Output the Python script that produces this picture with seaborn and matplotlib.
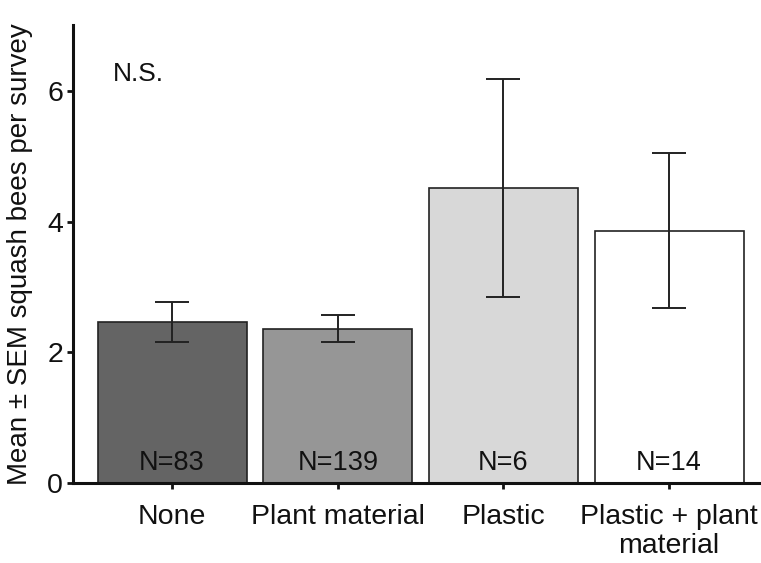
import numpy as np
import pandas as pd
import matplotlib
matplotlib.use("Agg")
import matplotlib.pyplot as plt
import seaborn as sns

categories = ["None", "Plant material", "Plastic", "Plastic + plant\nmaterial"]
means = [2.46, 2.36, 4.51, 3.86]
sems = [0.31, 0.21, 1.67, 1.18]
n_labels = ["N=83", "N=139", "N=6", "N=14"]
colors = ["#646464", "#969696", "#d8d8d8", "#ffffff"]

sns.set_style("ticks")
plt.rcParams['font.family'] = ['Liberation Sans', 'DejaVu Sans']

df = pd.DataFrame({"cat": categories, "mean": means})

fig = plt.figure(figsize=(7.61, 5.63), dpi=100)
ax = fig.add_axes([0.0955, 0.142, 0.91, 0.813])
sns.barplot(data=df, x="cat", y="mean", hue="cat", palette=colors, legend=False,
            width=0.9, edgecolor="#222222", linewidth=1.2, ax=ax, errorbar=None, saturation=1)
ax.errorbar(np.arange(len(categories)), means, yerr=sems, fmt="none",
            ecolor="#222222", elinewidth=1.4, capsize=12, capthick=1.4)
for i, lab in enumerate(n_labels):
    ax.text(i, 0.3, lab, ha="center", va="center", fontsize=19.5, color="#111111")
ax.text(-0.36, 6.25, "N.S.", ha="left", va="center", fontsize=19, color="#111111")

ax.set_ylim(0, 7)
ax.set_xlim(-0.6, 3.58)
ax.set_yticks([0, 2, 4, 6])
ax.set_xlabel("")
ax.set_ylabel("Mean ± SEM squash bees per survey", fontsize=20, color="#111111", labelpad=10)
ax.tick_params(axis="both", labelsize=20.5, colors="#111111", width=2, length=4)
ax.tick_params(axis="x", pad=11)
ax.tick_params(axis="y", pad=3)
for t in ax.get_xticklabels():
    t.set_linespacing(1.15)
sns.despine(ax=ax)
for s in ["left", "bottom"]:
    ax.spines[s].set_linewidth(2.2)
    ax.spines[s].set_color("#111111")
fig.savefig("out.png", dpi=100)
